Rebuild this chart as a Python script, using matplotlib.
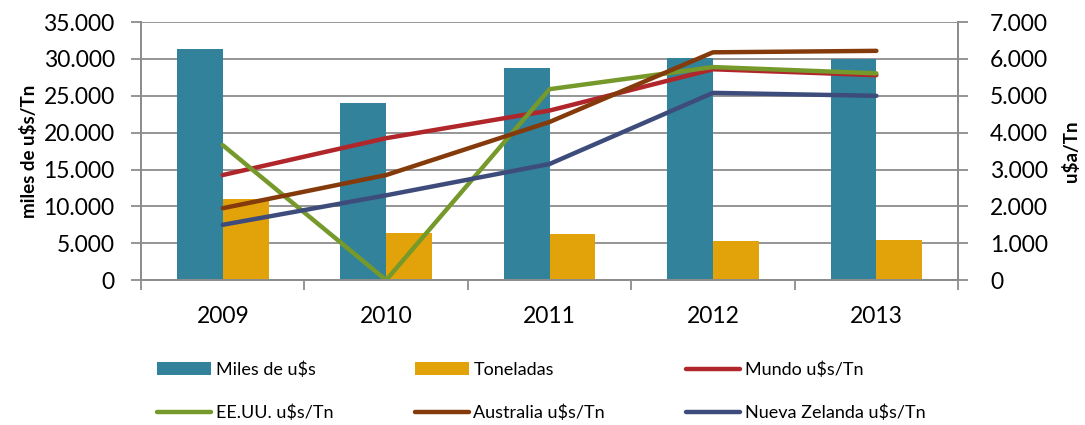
import matplotlib
matplotlib.use('Agg')
import matplotlib.pyplot as plt
from matplotlib.ticker import FuncFormatter, FixedLocator
import numpy as np

years = ['2009', '2010', '2011', '2012', '2013']
miles_usd = [31300, 24000, 28750, 30100, 30000]
toneladas = [11000, 6350, 6250, 5300, 5400]
mundo = [2850, 3850, 4600, 5720, 5560]
eeuu = [3660, 0, 5180, 5780, 5610]
australia = [1950, 2850, 4290, 6180, 6220]
nueva_zelanda = [1500, 2300, 3150, 5080, 5000]

plt.rcParams['font.family'] = ['Lato', 'DejaVu Sans']

fig = plt.figure(figsize=(10.85, 4.25), dpi=100)
ax = fig.add_axes([0.130, 0.341, 0.753, 0.607])
ax2 = ax.twinx()

x = np.arange(len(years))
w = 0.28
ax.bar(x - w / 2, miles_usd, w, color='#31829A', label='Miles de u$s', zorder=2)
ax.bar(x + w / 2, toneladas, w, color='#E2A30A', label='Toneladas', zorder=2)

lw = 3.2
ax2.plot(x, mundo, color='#B0262A', lw=lw, label='Mundo u$s/Tn', solid_capstyle='round')
ax2.plot(x, eeuu, color='#76992B', lw=lw, label='EE.UU. u$s/Tn', solid_capstyle='round')
ax2.plot(x, australia, color='#843A0A', lw=lw, label='Australia u$s/Tn', solid_capstyle='round')
ax2.plot(x, nueva_zelanda, color='#3E4C7C', lw=lw, label='Nueva Zelanda u$s/Tn', solid_capstyle='round')

fmt = FuncFormatter(lambda v, p: f'{int(v):,}'.replace(',', '.'))
ax.set_ylim(0, 35000)
ax.set_yticks(np.arange(0, 35001, 5000))
ax.yaxis.set_major_formatter(fmt)
ax2.set_ylim(0, 7000)
ax2.set_yticks(np.arange(0, 7001, 1000))
ax2.yaxis.set_major_formatter(fmt)

ax.set_xlim(-0.5, 4.5)
ax.set_xticks(x)
ax.set_xticklabels(years)
ax.xaxis.set_minor_locator(FixedLocator(np.arange(-0.5, 5, 1)))
ax.tick_params(axis='x', which='major', length=0, labelsize=16.5, pad=19)
ax.tick_params(axis='x', which='minor', length=7, color='#8C8C8C', width=1.3)
ax.tick_params(axis='y', labelsize=16.5, length=7, color='#8C8C8C', width=1.3, pad=12)
ax2.tick_params(axis='y', labelsize=16.5, length=7, color='#8C8C8C', width=1.3, pad=16)

ax.grid(axis='y', color='#8C8C8C', lw=1.3, zorder=0)
ax.set_axisbelow(True)
for a in (ax, ax2):
    a.spines['top'].set_visible(False)
    for s in ('left', 'right', 'bottom'):
        a.spines[s].set_color('#8C8C8C')
        a.spines[s].set_linewidth(1.3)

ax.set_ylabel('miles de u$s/Tn', fontsize=13.5, fontweight='bold', labelpad=4)
ax2.set_ylabel('u$a/Tn', fontsize=13.5, fontweight='bold', labelpad=10)

h1, l1 = ax.get_legend_handles_labels()
h2, l2 = ax2.get_legend_handles_labels()
hs = h1 + h2
ls = l1 + l2
order = [0, 3, 1, 4, 2, 5]
fig.legend([hs[i] for i in order], [ls[i] for i in order], ncol=3,
           loc='lower left', bbox_to_anchor=(0.130, -0.03), frameon=False,
           fontsize=13, handlelength=3.0, handletextpad=0.25,
           columnspacing=4.5, labelspacing=1.5)

fig.savefig('out.png', dpi=100)
